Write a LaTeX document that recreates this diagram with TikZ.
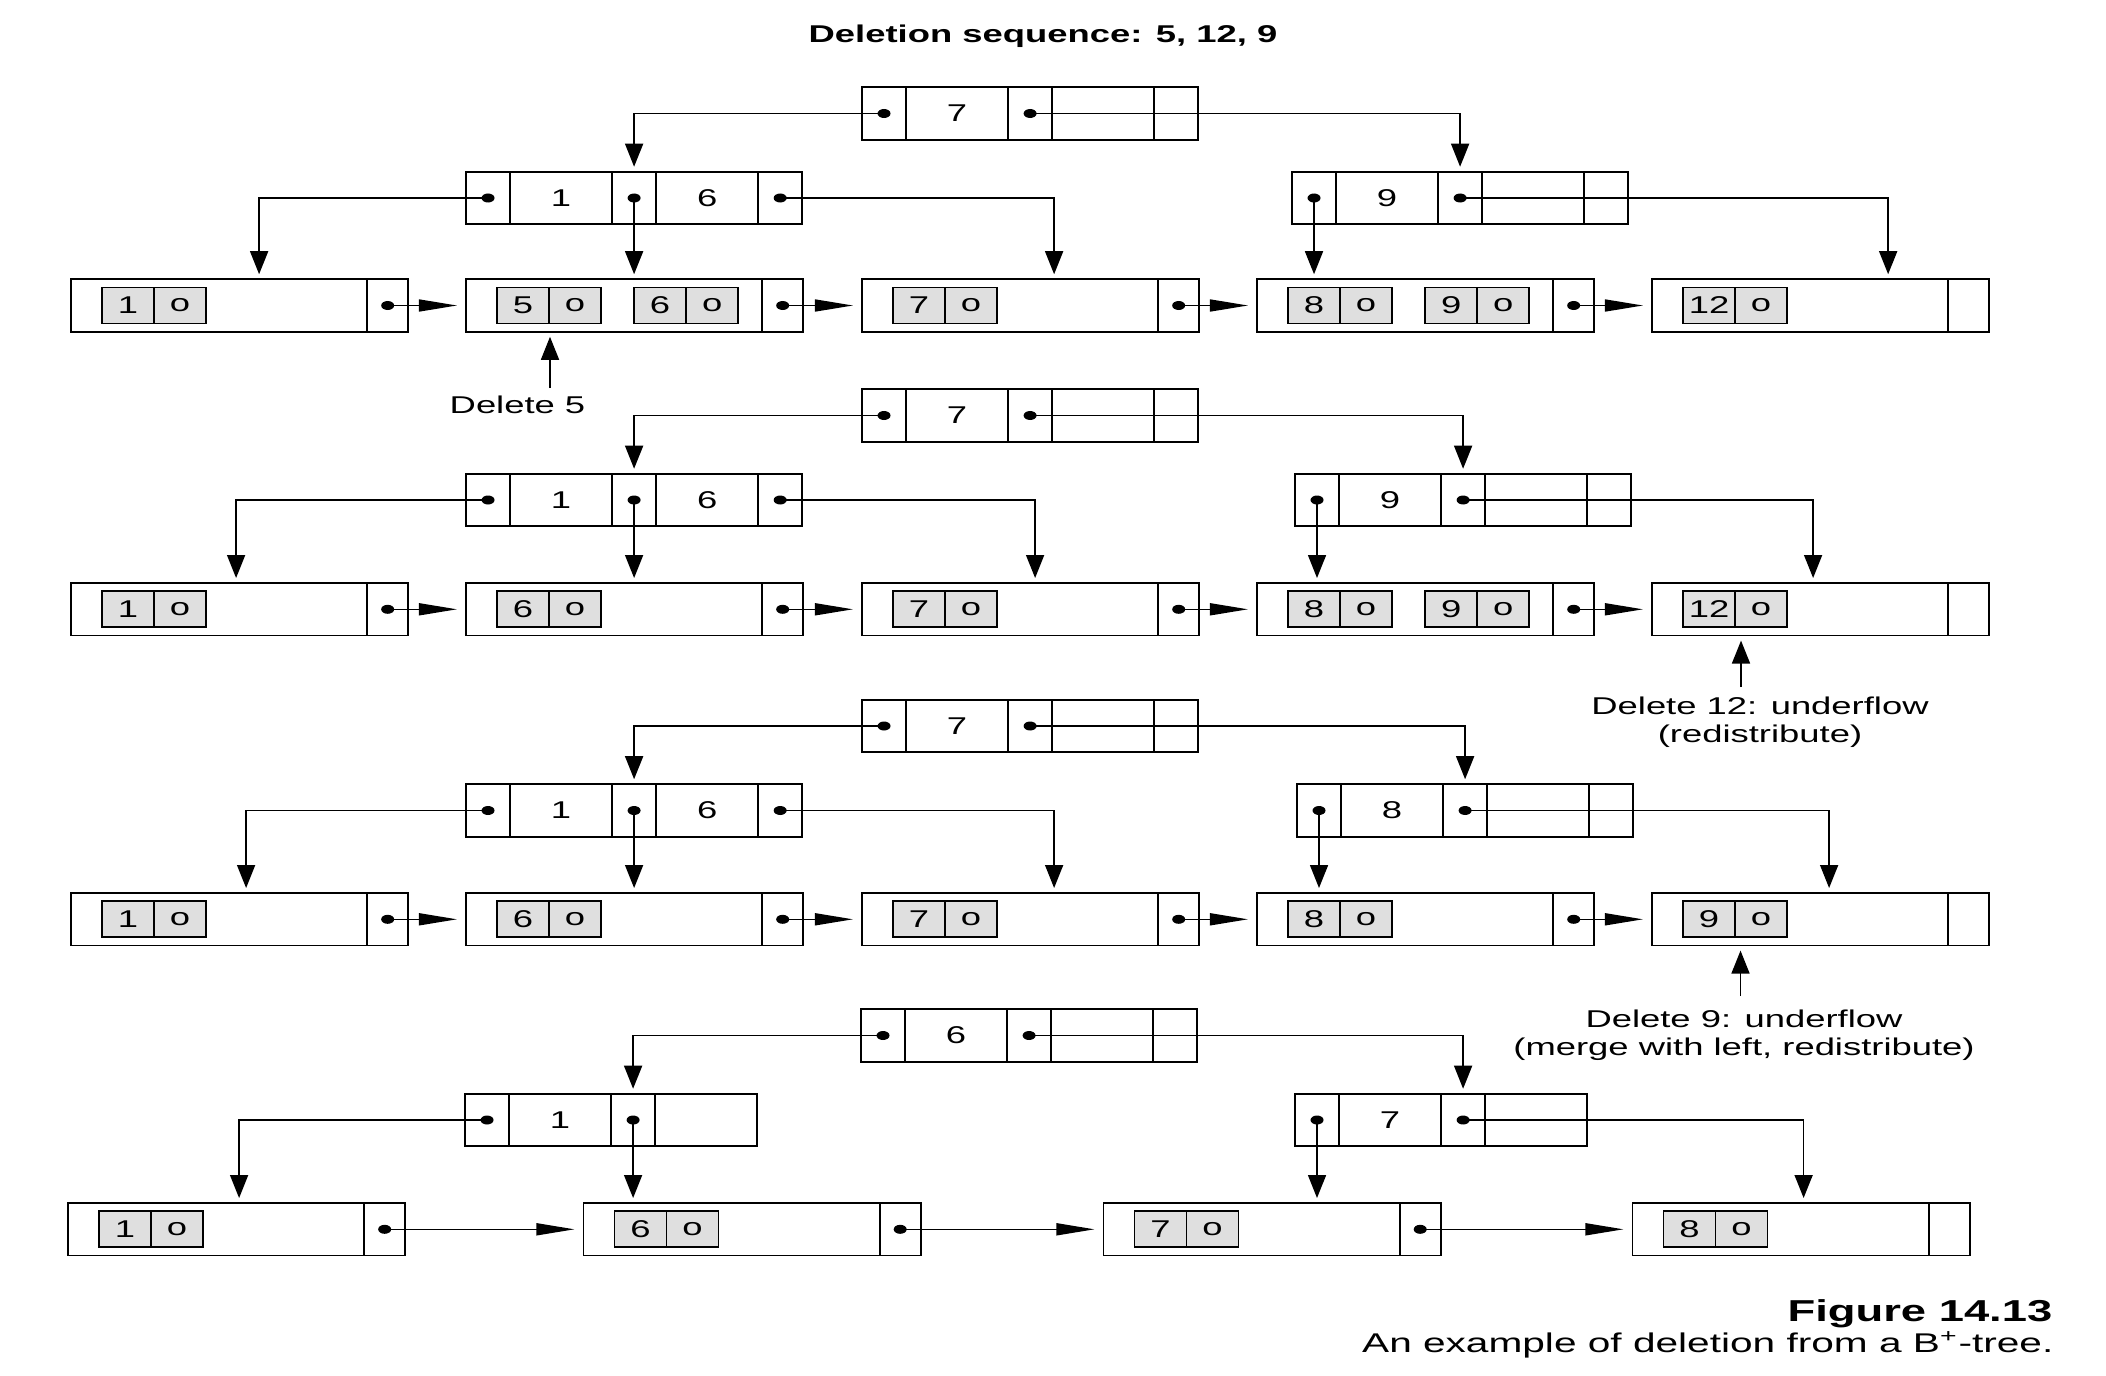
\documentclass[tikz,border=0pt]{standalone}
\usepackage{fontspec}
\setmainfont{Liberation Sans}[FakeStretch=1.5]
\usetikzlibrary{positioning, arrows.meta}

\tikzset{
  cell/.style={draw, line width=0.5pt, inner sep=0pt, outer sep=0pt, minimum height=5.25mm},
  ptr/.style={cell, minimum width=4.4mm},
  keyc/.style={cell, minimum width=10.2mm},
  lbody/.style={cell, minimum width=29.6mm},
  lptr/.style={cell, minimum width=4.1mm},
  rcell/.style={cell, fill=gray!25, minimum width=5.2mm, minimum height=3.6mm},
  vlink/.style={line width=0.45pt, -{Triangle[length=2.3mm, width=1.8mm]}, shorten >=0.5mm},
  hlink/.style={line width=0.45pt, -{Triangle[length=3.8mm, width=1.2mm]}, shorten >=0.9mm},
  note/.style={inner sep=0pt, align=center},
}

% internal node: pointer | key | pointer | key
\newcommand{\bnodeshort}[4]{%
  \node[ptr, anchor=west] (#1p1) at (#2) {};
  \node[keyc, right=0pt of #1p1] (#1k1) {#3};
  \node[ptr, right=0pt of #1k1] (#1p2) {};
  \node[keyc, right=0pt of #1p2] (#1k2) {#4};
}
% same, with the last pointer
\newcommand{\bnode}[4]{%
  \bnodeshort{#1}{#2}{#3}{#4}
  \node[ptr, right=0pt of #1k2] (#1p3) {};
}
% leaf node with its records
\newcommand{\bleaf}[3]{%
  \node[lbody, anchor=west] (#1) at (#2) {};
  \node[lptr, right=0pt of #1] (#1p) {};
  \foreach \kk [count=\n] in {#3} {
    \node[rcell, anchor=west] (#1k\n) at ([xshift={3.1mm+(\n-1)*13.7mm}]#1.west) {\kk};
    \node[rcell, right=0pt of #1k\n] (#1o\n) {o};
  }
}

\begin{document}
\begin{tikzpicture}[x=0.01cm, y=-0.01cm, font=\fontsize{6.9}{8}\selectfont]
    \useasboundingbox (0,0) rectangle (2106,1376);

    \node[inner sep=0pt, anchor=base, font=\fontsize{6.9}{8}\selectfont\bfseries] (title) at (1043,42.7) {Deletion sequence: 5, 12, 9};

    % Tree before any deletion
    \bnode{r1}{862,113.5}{7}{}
    \bnode{a1}{466,198}{1}{6}
    \bnode{b1}{1292,198}{9}{}
    \bleaf{l1a}{71,305.5}{1}
    \bleaf{l1b}{466,305.5}{5,6}
    \bleaf{l1c}{862,305.5}{7}
    \bleaf{l1d}{1257,305.5}{8,9}
    \bleaf{l1e}{1652,305.5}{12}

    \draw[vlink] (r1p1.center) -| (a1p2.north);
    \draw[vlink] (r1p2.center) -| (b1p2.north);
    \draw[vlink] (a1p1.center) -| ([xshift=18.8mm]l1a.north west);
    \draw[vlink] (a1p2.center) -- (a1p2.center |- l1b.north);
    \draw[vlink] (a1p3.center) -| ([xshift=19.2mm]l1c.north west);
    \draw[vlink] (b1p1.center) -- (b1p1.center |- l1d.north);
    \draw[vlink] (b1p2.center) -| ([xshift=23.6mm]l1e.north west);
    \foreach \pa/\pb in {l1a/l1b, l1b/l1c, l1c/l1d, l1d/l1e}
        \draw[hlink] (\pa p.center) -- (\pb);
    \foreach \c in {r1p1, r1p2, a1p1, a1p2, a1p3, b1p1, b1p2, l1ap, l1bp, l1cp, l1dp}
        \fill (\c) ellipse [x radius=0.65mm, y radius=0.45mm];

    \node[note, anchor=base] (del5) at (517.5,413) {Delete 5};
    \coordinate (d5) at (550,388);
    \draw[vlink] (d5) -- (d5 |- l1b.south);

    % After deleting 5
    \bnode{r2}{862,415.5}{7}{}
    \bnode{a2}{466,500}{1}{6}
    \bnode{b2}{1295,500}{9}{}
    \bleaf{l2a}{71,609.3}{1}
    \bleaf{l2b}{466,609.3}{6}
    \bleaf{l2c}{862,609.3}{7}
    \bleaf{l2d}{1257,609.3}{8,9}
    \bleaf{l2e}{1652,609.3}{12}

    \draw[vlink] (r2p1.center) -| (a2p2.north);
    \draw[vlink] (r2p2.center) -| (b2p2.north);
    \draw[vlink] (a2p1.center) -| ([xshift=16.5mm]l2a.north west);
    \draw[vlink] (a2p2.center) -- (a2p2.center |- l2b.north);
    \draw[vlink] (a2p3.center) -| ([xshift=17.3mm]l2c.north west);
    \draw[vlink] (b2p1.center) -- (b2p1.center |- l2d.north);
    \draw[vlink] (b2p2.center) -| ([xshift=16.1mm]l2e.north west);
    \foreach \pa/\pb in {l2a/l2b, l2b/l2c, l2c/l2d, l2d/l2e}
        \draw[hlink] (\pa p.center) -- (\pb);
    \foreach \c in {r2p1, r2p2, a2p1, a2p2, a2p3, b2p1, b2p2, l2ap, l2bp, l2cp, l2dp}
        \fill (\c) ellipse [x radius=0.65mm, y radius=0.45mm];

    \node[note, anchor=north] (del12) at (1760,696) {Delete 12: underflow\\(redistribute)};
    \coordinate (d12) at (1741,687);
    \draw[vlink] (d12) -- (d12 |- l2e.south);

    % After deleting 12
    \bnode{r3}{862,726}{7}{}
    \bnode{a3}{466,810.5}{1}{6}
    \bnode{b3}{1297,810.5}{8}{}
    \bleaf{l3a}{71,919.3}{1}
    \bleaf{l3b}{466,919.3}{6}
    \bleaf{l3c}{862,919.3}{7}
    \bleaf{l3d}{1257,919.3}{8}
    \bleaf{l3e}{1652,919.3}{9}

    \draw[vlink] (r3p1.center) -| (a3p2.north);
    \draw[vlink] (r3p2.center) -| (b3p2.north);
    \draw[vlink] (a3p1.center) -| ([xshift=17.5mm]l3a.north west);
    \draw[vlink] (a3p2.center) -- (a3p2.center |- l3b.north);
    \draw[vlink] (a3p3.center) -| ([xshift=19.2mm]l3c.north west);
    \draw[vlink] (b3p1.center) -- (b3p1.center |- l3d.north);
    \draw[vlink] (b3p2.center) -| ([xshift=17.7mm]l3e.north west);
    \foreach \pa/\pb in {l3a/l3b, l3b/l3c, l3c/l3d, l3d/l3e}
        \draw[hlink] (\pa p.center) -- (\pb);
    \foreach \c in {r3p1, r3p2, a3p1, a3p2, a3p3, b3p1, b3p2, l3ap, l3bp, l3cp, l3dp}
        \fill (\c) ellipse [x radius=0.65mm, y radius=0.45mm];

    \node[note, anchor=north] (del9) at (1744,1009) {Delete 9: underflow\\(merge with left, redistribute)};
    \coordinate (d9) at (1740.5,996);
    \draw[vlink] (d9) -- (d9 |- l3e.south);

    % After deleting 9
    \bnode{r4}{861,1035.5}{6}{}
    \bnodeshort{a4}{465,1120}{1}{}
    \bnodeshort{b4}{1295,1120}{7}{}
    \bleaf{l4a}{68,1229.3}{1}
    \bleaf{l4b}{583.5,1229.3}{6}
    \bleaf{l4c}{1103.5,1229.3}{7}
    \bleaf{l4d}{1632.5,1229.3}{8}

    \draw[vlink] (r4p1.center) -| (a4p2.north);
    \draw[vlink] (r4p2.center) -| (b4p2.north);
    \draw[vlink] (a4p1.center) -| ([xshift=17.1mm]l4a.north west);
    \draw[vlink] (a4p2.center) -- (a4p2.center |- l4b.north);
    \draw[vlink] (b4p1.center) -- (b4p1.center |- l4c.north);
    \draw[vlink] (b4p2.center) -| ([xshift=17.1mm]l4d.north west);
    \foreach \pa/\pb in {l4a/l4b, l4b/l4c, l4c/l4d}
        \draw[hlink] (\pa p.center) -- (\pb);
    \foreach \c in {r4p1, r4p2, a4p1, a4p2, b4p1, b4p2, l4ap, l4bp, l4cp}
        \fill (\c) ellipse [x radius=0.65mm, y radius=0.45mm];

    % Caption
    \node[inner sep=0pt, anchor=base east, font=\fontsize{8.6}{10}\selectfont\bfseries] (fig) at (2053,1321) {Figure 14.13};
    \node[inner sep=0pt, anchor=base east, font=\fontsize{7.7}{9}\selectfont] (cap) at (2054,1352) {An example of deletion from a B\textsuperscript{+}-tree.};
\end{tikzpicture}
\end{document}
